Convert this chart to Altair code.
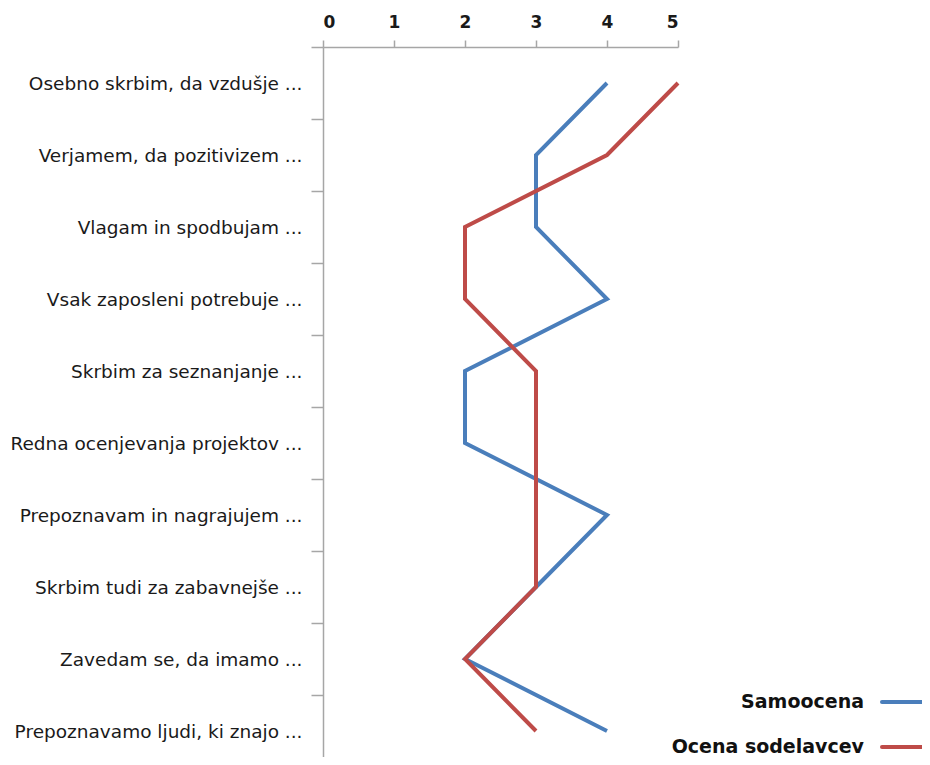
import altair as alt
import pandas as pd

categories = [
    "Osebno skrbim, da vzdušje ...",
    "Verjamem, da pozitivizem ...",
    "Vlagam in spodbujam ...",
    "Vsak zaposleni potrebuje ...",
    "Skrbim za seznanjanje ...",
    "Redna ocenjevanja projektov ...",
    "Prepoznavam in nagrajujem ...",
    "Skrbim tudi za zabavnejše ...",
    "Zavedam se, da imamo ...",
    "Prepoznavamo ljudi, ki znajo ...",
]
series = ["Samoocena", "Ocena sodelavcev"]
samoocena = [4, 3, 3, 4, 2, 2, 4, 3, 2, 4]
ocena_sodelavcev = [5, 4, 2, 2, 3, 3, 3, 3, 2, 3]
colors = ["#4A7EBB", "#BE4B48"]
x_ticks = [0, 1, 2, 3, 4, 5]

rows = []
for s, vals in zip(series, [samoocena, ocena_sodelavcev]):
    for i, (c, v) in enumerate(zip(categories, vals)):
        rows.append({"series": s, "category": c, "value": v, "idx": i})
df = pd.DataFrame(rows)

FONT = "DejaVu Sans"
AXIS_COLOR = "#a6a6a6"

lines = alt.Chart(df).mark_line(strokeWidth=4).encode(
    x=alt.X("value:Q",
            scale=alt.Scale(domain=[0, 5], nice=False, zero=True),
            axis=alt.Axis(orient="top", values=x_ticks, title=None, grid=False,
                          tickSize=7, labelPadding=9, labelFontSize=17,
                          labelFontWeight="bold", labelFont=FONT, labelColor="#1a1a1a",
                          domainColor=AXIS_COLOR, tickColor=AXIS_COLOR,
                          domainWidth=1.5, tickWidth=1.5)),
    y=alt.Y("category:N", sort=categories,
            scale=alt.Scale(type="band", paddingInner=0, paddingOuter=0, range=[0, 720]),
            axis=alt.Axis(title=None, tickBand="extent", tickSize=12, labelPadding=9,
                          labelFontSize=18.5, labelFont=FONT, labelColor="#1a1a1a",
                          domainColor=AXIS_COLOR, tickColor=AXIS_COLOR,
                          domainWidth=1.5, tickWidth=1.5, labelLimit=400)),
    color=alt.Color("series:N", scale=alt.Scale(domain=series, range=colors), legend=None),
    order="idx:Q",
    detail="series:N",
)

legend_layers = []
legend_y = [655, 700]
for s, col, yy in zip(series, colors, legend_y):
    ldf = pd.DataFrame({"series": [s]})
    t = alt.Chart(ldf).mark_text(align="right", baseline="middle", fontSize=19,
                                 fontWeight="bold", font=FONT, color="#111111").encode(
        text="series:N", x=alt.value(541), y=alt.value(yy))
    r = alt.Chart(ldf).mark_rule(strokeWidth=4, color=col, strokeCap="round").encode(
        x=alt.value(559), x2=alt.value(640), y=alt.value(yy))
    legend_layers += [t, r]

chart = alt.layer(lines, *legend_layers).properties(
    width=355, height=710,
    autosize=alt.AutoSizeParams(type="none"),
    padding={"left": 315, "top": 39, "right": 244, "bottom": 0},
).configure_view(stroke=None)

chart.save("out.html", embed_options={"renderer": "svg", "actions": False})
